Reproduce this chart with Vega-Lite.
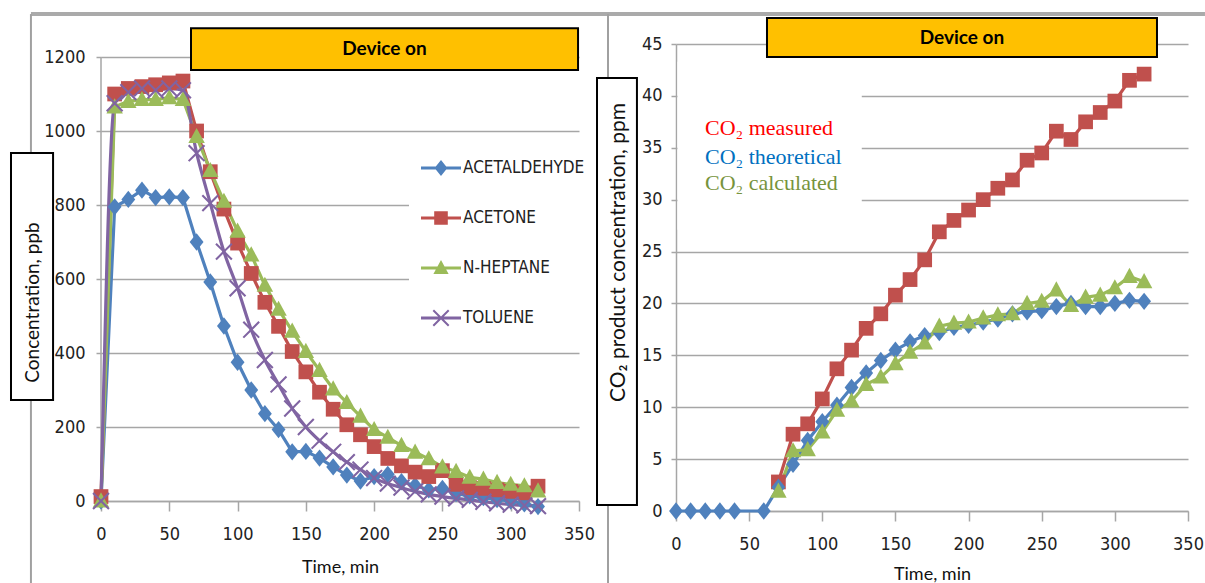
{
  "$schema": "https://vega.github.io/schema/vega-lite/v6.json",
  "background": "white",
  "padding": {"left": 9, "top": 12, "right": 0, "bottom": 0},
  "spacing": -5,
  "config": {
    "view": {"stroke": null},
    "axis": {
      "labelFont": "Liberation Sans Narrow, DejaVu Sans Condensed, sans-serif",
      "labelFontSize": 18,
      "labelColor": "#222222",
      "labelFlush": false,
      "labelOverlap": false,
      "format": "d",
      "domainColor": "#a6a6a6",
      "domainWidth": 1.5,
      "tickColor": "#a6a6a6",
      "tickWidth": 1.5,
      "gridColor": "#a6a6a6",
      "gridWidth": 1.5,
      "titleFont": "Lato, sans-serif",
      "titleFontSize": 18,
      "titleFontWeight": "normal",
      "titleColor": "#111111"
    },
    "axisX": {"tickSize": 10, "labelPadding": 14, "grid": false, "titlePadding": 15},
    "axisY": {"tickSize": 5, "labelPadding": 11, "grid": true}
  },
  "datasets": {
    "voc": [
      {"t":0,"s":"ACETALDEHYDE","v":0},{"t":10,"s":"ACETALDEHYDE","v":795},{"t":20,"s":"ACETALDEHYDE","v":815},{"t":30,"s":"ACETALDEHYDE","v":840},{"t":40,"s":"ACETALDEHYDE","v":820},{"t":50,"s":"ACETALDEHYDE","v":822},{"t":60,"s":"ACETALDEHYDE","v":820},{"t":70,"s":"ACETALDEHYDE","v":700},{"t":80,"s":"ACETALDEHYDE","v":592},{"t":90,"s":"ACETALDEHYDE","v":473},{"t":100,"s":"ACETALDEHYDE","v":375},{"t":110,"s":"ACETALDEHYDE","v":300},{"t":120,"s":"ACETALDEHYDE","v":236},{"t":130,"s":"ACETALDEHYDE","v":193},{"t":140,"s":"ACETALDEHYDE","v":133},{"t":150,"s":"ACETALDEHYDE","v":134},{"t":160,"s":"ACETALDEHYDE","v":116},{"t":170,"s":"ACETALDEHYDE","v":92},{"t":180,"s":"ACETALDEHYDE","v":70},{"t":190,"s":"ACETALDEHYDE","v":54},{"t":200,"s":"ACETALDEHYDE","v":66},{"t":210,"s":"ACETALDEHYDE","v":72},{"t":220,"s":"ACETALDEHYDE","v":52},{"t":230,"s":"ACETALDEHYDE","v":42},{"t":240,"s":"ACETALDEHYDE","v":30},{"t":250,"s":"ACETALDEHYDE","v":34},{"t":260,"s":"ACETALDEHYDE","v":20},{"t":270,"s":"ACETALDEHYDE","v":14},{"t":280,"s":"ACETALDEHYDE","v":9},{"t":290,"s":"ACETALDEHYDE","v":4},{"t":300,"s":"ACETALDEHYDE","v":0},{"t":310,"s":"ACETALDEHYDE","v":-8},{"t":320,"s":"ACETALDEHYDE","v":-15},
      {"t":0,"s":"ACETONE","v":12},{"t":10,"s":"ACETONE","v":1100},{"t":20,"s":"ACETONE","v":1115},{"t":30,"s":"ACETONE","v":1120},{"t":40,"s":"ACETONE","v":1125},{"t":50,"s":"ACETONE","v":1130},{"t":60,"s":"ACETONE","v":1135},{"t":70,"s":"ACETONE","v":1000},{"t":80,"s":"ACETONE","v":890},{"t":90,"s":"ACETONE","v":789},{"t":100,"s":"ACETONE","v":697},{"t":110,"s":"ACETONE","v":615},{"t":120,"s":"ACETONE","v":537},{"t":130,"s":"ACETONE","v":472},{"t":140,"s":"ACETONE","v":404},{"t":150,"s":"ACETONE","v":349},{"t":160,"s":"ACETONE","v":294},{"t":170,"s":"ACETONE","v":248},{"t":180,"s":"ACETONE","v":206},{"t":190,"s":"ACETONE","v":179},{"t":200,"s":"ACETONE","v":147},{"t":210,"s":"ACETONE","v":115},{"t":220,"s":"ACETONE","v":95},{"t":230,"s":"ACETONE","v":78},{"t":240,"s":"ACETONE","v":66},{"t":250,"s":"ACETONE","v":82},{"t":260,"s":"ACETONE","v":45},{"t":270,"s":"ACETONE","v":36},{"t":280,"s":"ACETONE","v":34},{"t":290,"s":"ACETONE","v":30},{"t":300,"s":"ACETONE","v":26},{"t":310,"s":"ACETONE","v":22},{"t":320,"s":"ACETONE","v":40},
      {"t":0,"s":"N-HEPTANE","v":0},{"t":10,"s":"N-HEPTANE","v":1065},{"t":20,"s":"N-HEPTANE","v":1080},{"t":30,"s":"N-HEPTANE","v":1085},{"t":40,"s":"N-HEPTANE","v":1085},{"t":50,"s":"N-HEPTANE","v":1090},{"t":60,"s":"N-HEPTANE","v":1085},{"t":70,"s":"N-HEPTANE","v":985},{"t":80,"s":"N-HEPTANE","v":893},{"t":90,"s":"N-HEPTANE","v":810},{"t":100,"s":"N-HEPTANE","v":729},{"t":110,"s":"N-HEPTANE","v":665},{"t":120,"s":"N-HEPTANE","v":583},{"t":130,"s":"N-HEPTANE","v":518},{"t":140,"s":"N-HEPTANE","v":459},{"t":150,"s":"N-HEPTANE","v":404},{"t":160,"s":"N-HEPTANE","v":353},{"t":170,"s":"N-HEPTANE","v":303},{"t":180,"s":"N-HEPTANE","v":266},{"t":190,"s":"N-HEPTANE","v":229},{"t":200,"s":"N-HEPTANE","v":193},{"t":210,"s":"N-HEPTANE","v":172},{"t":220,"s":"N-HEPTANE","v":150},{"t":230,"s":"N-HEPTANE","v":132},{"t":240,"s":"N-HEPTANE","v":114},{"t":250,"s":"N-HEPTANE","v":92},{"t":260,"s":"N-HEPTANE","v":80},{"t":270,"s":"N-HEPTANE","v":64},{"t":280,"s":"N-HEPTANE","v":59},{"t":290,"s":"N-HEPTANE","v":50},{"t":300,"s":"N-HEPTANE","v":45},{"t":310,"s":"N-HEPTANE","v":41},{"t":320,"s":"N-HEPTANE","v":27},
      {"t":0,"s":"TOLUENE","v":0},{"t":10,"s":"TOLUENE","v":1075},{"t":20,"s":"TOLUENE","v":1105},{"t":30,"s":"TOLUENE","v":1115},{"t":40,"s":"TOLUENE","v":1110},{"t":50,"s":"TOLUENE","v":1115},{"t":60,"s":"TOLUENE","v":1110},{"t":70,"s":"TOLUENE","v":940},{"t":80,"s":"TOLUENE","v":805},{"t":90,"s":"TOLUENE","v":674},{"t":100,"s":"TOLUENE","v":575},{"t":110,"s":"TOLUENE","v":463},{"t":120,"s":"TOLUENE","v":381},{"t":130,"s":"TOLUENE","v":315},{"t":140,"s":"TOLUENE","v":250},{"t":150,"s":"TOLUENE","v":200},{"t":160,"s":"TOLUENE","v":163},{"t":170,"s":"TOLUENE","v":133},{"t":180,"s":"TOLUENE","v":105},{"t":190,"s":"TOLUENE","v":85},{"t":200,"s":"TOLUENE","v":62},{"t":210,"s":"TOLUENE","v":47},{"t":220,"s":"TOLUENE","v":36},{"t":230,"s":"TOLUENE","v":26},{"t":240,"s":"TOLUENE","v":18},{"t":250,"s":"TOLUENE","v":12},{"t":260,"s":"TOLUENE","v":7},{"t":270,"s":"TOLUENE","v":3},{"t":280,"s":"TOLUENE","v":-2},{"t":290,"s":"TOLUENE","v":-6},{"t":300,"s":"TOLUENE","v":-10},{"t":310,"s":"TOLUENE","v":-12},{"t":320,"s":"TOLUENE","v":-14}
    ],
    "co2": [
      {"t":70,"s":"CO₂ measured","v":2.8},{"t":80,"s":"CO₂ measured","v":7.4},{"t":90,"s":"CO₂ measured","v":8.4},{"t":100,"s":"CO₂ measured","v":10.8},{"t":110,"s":"CO₂ measured","v":13.7},{"t":120,"s":"CO₂ measured","v":15.5},{"t":130,"s":"CO₂ measured","v":17.6},{"t":140,"s":"CO₂ measured","v":19.0},{"t":150,"s":"CO₂ measured","v":20.8},{"t":160,"s":"CO₂ measured","v":22.3},{"t":170,"s":"CO₂ measured","v":24.2},{"t":180,"s":"CO₂ measured","v":26.9},{"t":190,"s":"CO₂ measured","v":28.0},{"t":200,"s":"CO₂ measured","v":29.0},{"t":210,"s":"CO₂ measured","v":30.0},{"t":220,"s":"CO₂ measured","v":31.1},{"t":230,"s":"CO₂ measured","v":31.9},{"t":240,"s":"CO₂ measured","v":33.8},{"t":250,"s":"CO₂ measured","v":34.5},{"t":260,"s":"CO₂ measured","v":36.6},{"t":270,"s":"CO₂ measured","v":35.8},{"t":280,"s":"CO₂ measured","v":37.5},{"t":290,"s":"CO₂ measured","v":38.4},{"t":300,"s":"CO₂ measured","v":39.5},{"t":310,"s":"CO₂ measured","v":41.5},{"t":320,"s":"CO₂ measured","v":42.1},
      {"t":0,"s":"CO₂ theoretical","v":0},{"t":10,"s":"CO₂ theoretical","v":0},{"t":20,"s":"CO₂ theoretical","v":0},{"t":30,"s":"CO₂ theoretical","v":0},{"t":40,"s":"CO₂ theoretical","v":0},{"t":60,"s":"CO₂ theoretical","v":0},{"t":70,"s":"CO₂ theoretical","v":2.3},{"t":80,"s":"CO₂ theoretical","v":4.5},{"t":90,"s":"CO₂ theoretical","v":6.8},{"t":100,"s":"CO₂ theoretical","v":8.6},{"t":110,"s":"CO₂ theoretical","v":10.2},{"t":120,"s":"CO₂ theoretical","v":11.9},{"t":130,"s":"CO₂ theoretical","v":13.3},{"t":140,"s":"CO₂ theoretical","v":14.5},{"t":150,"s":"CO₂ theoretical","v":15.5},{"t":160,"s":"CO₂ theoretical","v":16.3},{"t":170,"s":"CO₂ theoretical","v":16.9},{"t":180,"s":"CO₂ theoretical","v":17.2},{"t":190,"s":"CO₂ theoretical","v":17.7},{"t":200,"s":"CO₂ theoretical","v":17.9},{"t":210,"s":"CO₂ theoretical","v":18.2},{"t":220,"s":"CO₂ theoretical","v":18.5},{"t":230,"s":"CO₂ theoretical","v":19.0},{"t":240,"s":"CO₂ theoretical","v":19.2},{"t":250,"s":"CO₂ theoretical","v":19.3},{"t":260,"s":"CO₂ theoretical","v":19.7},{"t":270,"s":"CO₂ theoretical","v":20.0},{"t":280,"s":"CO₂ theoretical","v":19.7},{"t":290,"s":"CO₂ theoretical","v":19.7},{"t":300,"s":"CO₂ theoretical","v":20.0},{"t":310,"s":"CO₂ theoretical","v":20.3},{"t":320,"s":"CO₂ theoretical","v":20.2},
      {"t":70,"s":"CO₂ calculated","v":1.9},{"t":80,"s":"CO₂ calculated","v":5.8},{"t":90,"s":"CO₂ calculated","v":5.9},{"t":100,"s":"CO₂ calculated","v":7.6},{"t":110,"s":"CO₂ calculated","v":9.7},{"t":120,"s":"CO₂ calculated","v":10.6},{"t":130,"s":"CO₂ calculated","v":12.2},{"t":140,"s":"CO₂ calculated","v":12.9},{"t":150,"s":"CO₂ calculated","v":14.2},{"t":160,"s":"CO₂ calculated","v":15.3},{"t":170,"s":"CO₂ calculated","v":16.2},{"t":180,"s":"CO₂ calculated","v":17.8},{"t":190,"s":"CO₂ calculated","v":18.1},{"t":200,"s":"CO₂ calculated","v":18.2},{"t":210,"s":"CO₂ calculated","v":18.6},{"t":220,"s":"CO₂ calculated","v":18.9},{"t":230,"s":"CO₂ calculated","v":19.0},{"t":240,"s":"CO₂ calculated","v":20.0},{"t":250,"s":"CO₂ calculated","v":20.2},{"t":260,"s":"CO₂ calculated","v":21.3},{"t":270,"s":"CO₂ calculated","v":19.8},{"t":280,"s":"CO₂ calculated","v":20.6},{"t":290,"s":"CO₂ calculated","v":20.8},{"t":300,"s":"CO₂ calculated","v":21.5},{"t":310,"s":"CO₂ calculated","v":22.6},{"t":320,"s":"CO₂ calculated","v":22.1}
    ]
  },
  "hconcat": [
    {
      "width": 478,
      "height": 457,
      "resolve": {"scale": {"color": "independent", "shape": "independent"}},
      "layer": [
        {
          "data": {"values": [{}]},
          "mark": {"type": "rule", "color": "#aaaaaa", "strokeWidth": 4},
          "encoding": {"x": {"datum": -51.3}, "x2": {"datum": 363.9}, "y": {"datum": 1316}}
        },
        {
          "data": {"values": [{}]},
          "mark": {"type": "rule", "color": "#a0a0a0", "strokeWidth": 2},
          "encoding": {"x": {"datum": -51.3}, "y": {"datum": 1316}, "y2": {"datum": 940.5}}
        },
        {
          "data": {"values": [{}]},
          "mark": {"type": "rule", "color": "#a0a0a0", "strokeWidth": 2},
          "encoding": {"x": {"datum": -51.3}, "y": {"datum": 273}, "y2": {"datum": -221.6}}
        },
        {
          "data": {"values": [{}]},
          "mark": {"type": "rule", "color": "#a6a6a6", "strokeWidth": 1.5},
          "encoding": {"x": {"datum": 0}, "y": {"datum": 0}, "y2": {"datum": 1200}}
        },
        {
          "data": {"values": [{}]},
          "mark": {"type": "rect", "fill": "#FFC000", "stroke": "#000000", "strokeWidth": 2},
          "encoding": {"x": {"datum": 65.9}, "x2": {"datum": 349.3}, "y": {"datum": 1165}, "y2": {"datum": 1278}}
        },
        {
          "data": {"values": [{}]},
          "mark": {"type": "text", "text": "Device on", "font": "Lato, sans-serif", "fontWeight": "bold", "fontSize": 19, "color": "#000000", "align": "center", "baseline": "middle"},
          "encoding": {"x": {"datum": 207.6}, "y": {"datum": 1222}}
        },
        {
          "data": {"values": [{}]},
          "mark": {"type": "rect", "fill": "white", "fillOpacity": 0, "stroke": "#000000", "strokeWidth": 2},
          "encoding": {"x": {"datum": -65.9}, "x2": {"datum": -35.1}, "y": {"datum": 273}, "y2": {"datum": 940.5}}
        },
        {
          "data": {"name": "voc"},
          "transform": [{"filter": "datum.s != 'TOLUENE'"}],
          "mark": {"type": "line", "strokeWidth": 3.2},
          "encoding": {
            "x": {"field": "t", "type": "quantitative", "scale": {"domain": [0, 350], "nice": false},
                  "axis": {"title": "Time, min", "values": [0, 50, 100, 150, 200, 250, 300, 350]}},
            "y": {"field": "v", "type": "quantitative", "scale": {"domain": [0, 1235.14], "nice": false},
                  "axis": {"title": "Concentration, ppb", "domain": false, "values": [0, 200, 400, 600, 800, 1000, 1200], "titleX": -69, "titleY": 258, "titleBaseline": "middle", "titleFontSize": 19}},
            "color": {"field": "s", "type": "nominal", "legend": null,
                      "scale": {"domain": ["ACETALDEHYDE", "ACETONE", "N-HEPTANE", "TOLUENE"], "range": ["#4F81BD", "#C0504D", "#9BBB59", "#8064A2"]}}
          }
        },
        {
          "data": {"name": "voc"},
          "transform": [{"filter": "datum.s == 'TOLUENE'"}],
          "mark": {"type": "line", "strokeWidth": 3.2, "interpolate": "monotone", "color": "#8064A2"},
          "encoding": {
            "x": {"field": "t", "type": "quantitative"},
            "y": {"field": "v", "type": "quantitative"}
          }
        },
        {
          "data": {"name": "voc"},
          "mark": {"type": "point", "filled": true, "opacity": 1, "size": 300, "strokeWidth": 0},
          "encoding": {
            "x": {"field": "t", "type": "quantitative"},
            "y": {"field": "v", "type": "quantitative"},
            "color": {"field": "s", "type": "nominal", "legend": null,
                      "scale": {"domain": ["ACETALDEHYDE", "ACETONE", "N-HEPTANE", "TOLUENE"], "range": ["#4F81BD", "#C0504D", "#9BBB59", "#8064A2"]}},
            "shape": {"field": "s", "type": "nominal", "legend": null,
                      "scale": {"domain": ["ACETALDEHYDE", "ACETONE", "N-HEPTANE", "TOLUENE"],
                                "range": ["M0,-1L0.8,0L0,1L-0.8,0Z", "M-0.85,-0.85H0.85V0.85H-0.85Z", "M0,-1L0.95,0.75H-0.95Z", "M0,-0.17L0.83,-1L1,-0.83L0.17,0L1,0.83L0.83,1L0,0.17L-0.83,1L-1,0.83L-0.17,0L-1,-0.83L-0.83,-1Z"]}}
          }
        },
        {
          "data": {"name": "voc"},
          "transform": [{"filter": "datum.t < -1000"}],
          "mark": {"type": "point", "filled": true, "opacity": 1, "size": 1600, "strokeWidth": 0},
          "encoding": {
            "x": {"field": "t", "type": "quantitative"},
            "y": {"field": "v", "type": "quantitative"},
            "color": {"field": "s", "type": "nominal",
                      "scale": {"domain": ["ACETALDEHYDE", "ACETONE", "N-HEPTANE", "TOLUENE"], "range": ["#4F81BD", "#C0504D", "#9BBB59", "#8064A2"]},
                      "legend": {"orient": "none", "legendX": 308, "legendY": 92, "title": null, "fillColor": "white", "padding": 12, "symbolSize": 1600, "symbolStrokeWidth": 0, "rowPadding": 22, "labelFont": "Liberation Sans Narrow, DejaVu Sans Condensed, sans-serif", "labelFontSize": 17, "labelColor": "#222222", "labelOffset": 2}},
            "shape": {"field": "s", "type": "nominal",
                      "scale": {"domain": ["ACETALDEHYDE", "ACETONE", "N-HEPTANE", "TOLUENE"],
                                "range": ["M-1,-0.08H1V0.08H-1Z M0,-0.4L0.32,0L0,0.4L-0.32,0Z", "M-1,-0.08H1V0.08H-1Z M-0.34,-0.34H0.34V0.34H-0.34Z", "M-1,-0.08H1V0.08H-1Z M0,-0.4L0.38,0.3H-0.38Z", "M-1,-0.08H1V0.08H-1Z M0,-0.07L0.35,-0.42L0.42,-0.35L0.07,0L0.42,0.35L0.35,0.42L0,0.07L-0.35,0.42L-0.42,0.35L-0.07,0L-0.42,-0.35L-0.35,-0.42Z"]},
                      "legend": {"orient": "none", "legendX": 308, "legendY": 92, "title": null, "fillColor": "white", "padding": 12, "symbolSize": 1600, "symbolStrokeWidth": 0, "rowPadding": 22, "labelFont": "Liberation Sans Narrow, DejaVu Sans Condensed, sans-serif", "labelFontSize": 17, "labelColor": "#222222", "labelOffset": 2}}
          }
        }
      ]
    },
    {
      "width": 512,
      "height": 467,
      "layer": [
        {
          "data": {"values": [{}]},
          "mark": {"type": "rule", "color": "#aaaaaa", "strokeWidth": 4},
          "encoding": {"x": {"datum": -54}, "x2": {"datum": 361.6}, "y": {"datum": 47.89}}
        },
        {
          "data": {"values": [{}]},
          "mark": {"type": "rule", "color": "#a0a0a0", "strokeWidth": 2},
          "encoding": {"x": {"datum": -46.5}, "y": {"datum": 47.89}, "y2": {"datum": 41.72}}
        },
        {
          "data": {"values": [{}]},
          "mark": {"type": "rule", "color": "#a0a0a0", "strokeWidth": 2},
          "encoding": {"x": {"datum": -46.5}, "y": {"datum": 0.58}, "y2": {"datum": -6.94}}
        },
        {
          "data": {"values": [{}]},
          "mark": {"type": "rect", "fill": "white"},
          "encoding": {"x": {"datum": 1}, "x2": {"datum": 127}, "y": {"datum": 27.1}, "y2": {"datum": 43.3}}
        },
        {
          "data": {"values": [{}]},
          "mark": {"type": "rect", "fill": "#FFC000", "stroke": "#000000", "strokeWidth": 2},
          "encoding": {"x": {"datum": 62.2}, "x2": {"datum": 328.8}, "y": {"datum": 43.74}, "y2": {"datum": 47.5}}
        },
        {
          "data": {"values": [{}]},
          "mark": {"type": "text", "text": "Device on", "font": "Lato, sans-serif", "fontWeight": "bold", "fontSize": 19, "color": "#000000", "align": "center", "baseline": "middle"},
          "encoding": {"x": {"datum": 195.5}, "y": {"datum": 45.6}}
        },
        {
          "data": {"values": [{}]},
          "mark": {"type": "rect", "fill": "white", "fillOpacity": 0, "stroke": "#000000", "strokeWidth": 2},
          "encoding": {"x": {"datum": -54}, "x2": {"datum": -26.7}, "y": {"datum": 0.58}, "y2": {"datum": 41.72}}
        },
        {
          "data": {"name": "co2"},
          "mark": {"type": "line", "strokeWidth": 3.2},
          "encoding": {
            "x": {"field": "t", "type": "quantitative", "scale": {"domain": [0, 350], "nice": false},
                  "axis": {"title": "Time, min", "values": [0, 50, 100, 150, 200, 250, 300, 350], "titlePadding": 12}},
            "y": {"field": "v", "type": "quantitative", "scale": {"domain": [0, 45], "nice": false},
                  "axis": {"title": "CO₂ product concentration, ppm", "values": [0, 5, 10, 15, 20, 25, 30, 35, 40, 45], "labelPadding": 9, "titleX": -58, "titleY": 208, "titleBaseline": "middle", "titleFontSize": 21}},
            "color": {"field": "s", "type": "nominal", "legend": null,
                      "scale": {"domain": ["CO₂ measured", "CO₂ theoretical", "CO₂ calculated"], "range": ["#C0504D", "#4F81BD", "#9BBB59"]}}
          }
        },
        {
          "data": {"name": "co2"},
          "mark": {"type": "point", "filled": true, "opacity": 1, "size": 300, "strokeWidth": 0},
          "encoding": {
            "x": {"field": "t", "type": "quantitative"},
            "y": {"field": "v", "type": "quantitative"},
            "color": {"field": "s", "type": "nominal", "legend": null},
            "shape": {"field": "s", "type": "nominal", "legend": null,
                      "scale": {"domain": ["CO₂ measured", "CO₂ theoretical", "CO₂ calculated"],
                                "range": ["M-0.85,-0.85H0.85V0.85H-0.85Z", "M0,-1L0.8,0L0,1L-0.8,0Z", "M0,-1L0.95,0.75H-0.95Z"]}}
          }
        },
        {
          "data": {"values": [{}]},
          "mark": {"type": "text", "text": "CO₂ measured", "font": "Liberation Serif, serif", "fontSize": 22, "color": "#FF0000", "align": "left", "baseline": "middle"},
          "encoding": {"x": {"datum": 19.8}, "y": {"datum": 36.9}}
        },
        {
          "data": {"values": [{}]},
          "mark": {"type": "text", "text": "CO₂ theoretical", "font": "Liberation Serif, serif", "fontSize": 22, "color": "#0070C0", "align": "left", "baseline": "middle"},
          "encoding": {"x": {"datum": 19.8}, "y": {"datum": 34.1}}
        },
        {
          "data": {"values": [{}]},
          "mark": {"type": "text", "text": "CO₂ calculated", "font": "Liberation Serif, serif", "fontSize": 22, "color": "#77933C", "align": "left", "baseline": "middle"},
          "encoding": {"x": {"datum": 19.8}, "y": {"datum": 31.6}}
        }
      ]
    }
  ]
}
